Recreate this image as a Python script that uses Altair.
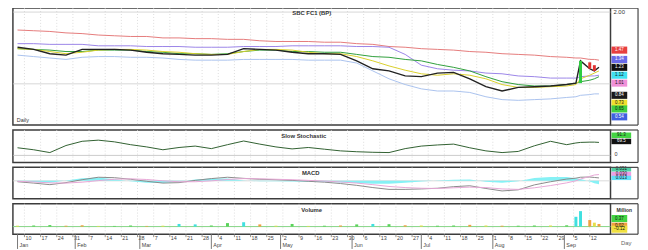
import altair as alt
import pandas as pd

# ---------------- data ----------------
dates = ["2005/01/07", "2005/01/14", "2005/01/21", "2005/01/28", "2005/02/04", "2005/02/11",
         "2005/02/18", "2005/02/25", "2005/03/04", "2005/03/11", "2005/03/18", "2005/03/25",
         "2005/04/01", "2005/04/08", "2005/04/15", "2005/04/22", "2005/04/29", "2005/05/06",
         "2005/05/13", "2005/05/20", "2005/05/27", "2005/06/03", "2005/06/10", "2005/06/17",
         "2005/06/24", "2005/07/01", "2005/07/08", "2005/07/15", "2005/07/22", "2005/07/29",
         "2005/08/05", "2005/08/12", "2005/08/19", "2005/08/26", "2005/09/02", "2005/09/06",
         "2005/09/08", "2005/09/12", "2005/09/14", "2005/09/16"]

close = [1.51, 1.48, 1.42, 1.40, 1.48, 1.48, 1.48, 1.47, 1.44, 1.42, 1.41, 1.40, 1.40, 1.41,
         1.49, 1.48, 1.47, 1.44, 1.42, 1.42, 1.41, 1.32, 1.21, 1.18, 1.11, 1.10, 1.15, 1.16,
         1.07, 0.96, 0.90, 0.95, 0.96, 0.97, 0.99, 1.01, 1.32, 1.21, 1.18, 1.23]
ma_long = [1.75, 1.74, 1.73, 1.71, 1.70, 1.68, 1.67, 1.66, 1.66, 1.64, 1.64, 1.63, 1.63, 1.62,
           1.62, 1.60, 1.59, 1.59, 1.59, 1.58, 1.58, 1.56, 1.55, 1.52, 1.51, 1.49, 1.48, 1.47,
           1.45, 1.44, 1.42, 1.41, 1.40, 1.38, 1.37, 1.36, 1.36, 1.34, 1.34, 1.33]
band_upper = [1.56, 1.56, 1.55, 1.55, 1.55, 1.53, 1.53, 1.53, 1.52, 1.52, 1.52, 1.51, 1.51, 1.51,
              1.52, 1.52, 1.52, 1.53, 1.53, 1.53, 1.53, 1.52, 1.52, 1.51, 1.41, 1.26, 1.21, 1.19,
              1.18, 1.15, 1.14, 1.11, 1.10, 1.08, 1.08, 1.08, 1.10, 1.11, 1.11, 1.12]
ma_mid = [1.49, 1.48, 1.47, 1.45, 1.45, 1.47, 1.47, 1.47, 1.45, 1.44, 1.42, 1.42, 1.41, 1.42,
          1.45, 1.47, 1.47, 1.45, 1.45, 1.44, 1.44, 1.41, 1.38, 1.37, 1.34, 1.32, 1.27, 1.23,
          1.18, 1.10, 1.03, 0.99, 0.97, 0.97, 0.99, 1.01, 1.03, 1.05, 1.07, 1.10]
ma_fast = [1.49, 1.48, 1.45, 1.42, 1.44, 1.47, 1.48, 1.48, 1.47, 1.45, 1.44, 1.42, 1.41, 1.41,
           1.45, 1.48, 1.48, 1.47, 1.44, 1.42, 1.42, 1.38, 1.32, 1.25, 1.19, 1.14, 1.12, 1.14,
           1.12, 1.07, 0.99, 0.95, 0.95, 0.96, 0.97, 0.99, 1.07, 1.12, 1.15, 1.18]
band_lower = [1.40, 1.38, 1.36, 1.34, 1.37, 1.38, 1.38, 1.37, 1.37, 1.36, 1.34, 1.33, 1.33, 1.33,
              1.34, 1.34, 1.34, 1.34, 1.33, 1.33, 1.33, 1.29, 1.18, 1.07, 0.99, 0.93, 0.90, 0.90,
              0.88, 0.82, 0.78, 0.77, 0.78, 0.79, 0.81, 0.82, 0.84, 0.85, 0.86, 0.86]

candle_dates = ["2005/09/08", "2005/09/12", "2005/09/14"]
candle_open = [1.01, 1.30, 1.26]
candle_close = [1.32, 1.21, 1.18]

stoch_k = [47, 40, 30, 55, 70, 74, 68, 58, 50, 40, 48, 53, 44, 58, 71, 60, 50, 43, 48, 42,
           36, 33, 31, 30, 44, 53, 57, 60, 47, 36, 30, 34, 54, 70, 58, 64, 66, 67, 67, 66]

macd = [-0.004, -0.010, -0.017, -0.008, 0.005, 0.016, 0.014, 0.007, -0.002, -0.010,
        -0.008, 0.002, 0.010, 0.016, 0.011, 0.007, 0.005, 0.002, -0.002, -0.006,
        -0.012, -0.020, -0.030, -0.038, -0.038, -0.036, -0.033, -0.026, -0.022, -0.034,
        -0.045, -0.040, -0.018, -0.004, 0.008, 0.012, 0.016, 0.017, 0.015, 0.013]
signal = [-0.002, -0.005, -0.009, -0.010, -0.006, 0.001, 0.007, 0.009, 0.006, 0.000,
          -0.004, -0.004, 0.000, 0.006, 0.010, 0.009, 0.007, 0.005, 0.002, -0.001,
          -0.005, -0.010, -0.017, -0.025, -0.030, -0.033, -0.034, -0.031, -0.028, -0.030,
          -0.036, -0.038, -0.031, -0.021, -0.009, 0.000, 0.008, 0.020, 0.026, 0.028]

volume = [0.04, 0.05, 0.07, 0.04, 0.06, 0.03, 0.03, 0.05, 0.03, 0.04, 0.12, 0.10, 0.05, 0.16,
          0.20, 0.10, 0.04, 0.12, 0.03, 0.04, 0.05, 0.10, 0.12, 0.11, 0.06, 0.05, 0.04, 0.05,
          0.08, 0.05, 0.04, 0.04, 0.05, 0.05, 0.06, 0.45, 0.71, 0.30, 0.18, 0.12]
vol_kind = ["flat", "up", "up", "down", "down", "flat", "up", "up", "down", "flat",
            "heavy", "heavy", "up", "up", "heavy", "down", "flat", "up", "flat", "up",
            "down", "up", "heavy", "up", "down", "flat", "up", "up", "down", "flat",
            "down", "up", "up", "flat", "up", "heavy", "heavy", "down", "flat", "down"]

price_box_names = ["MA 200", "BB Upper", "Close", "MA 10", "MA 100", "Open", "MA 20", "MA 50", "BB Lower"]
price_box_values = [1.47, 1.34, 1.23, 1.12, 1.01, 0.84, 0.73, 0.65, 0.54]
stoch_box_names = ["%D", "%K"]
stoch_box_values = [91.3, 69.5]
macd_box_names = ["MACD", "Signal", "Hist"]
macd_box_values = [0.051, 0.030, 0.013]
vol_box_names = ["Volume", "Avg", "Low"]
vol_box_values = [0.37, 0.02, -0.12]

price_grid = [1.0, 2.0]
price_tick_labels = [2.0]
stoch_grid = [20]
macd_grid = [0.0]
vol_grid = [0.0]

month_dates = ["2005/01/07", "2005/02/01", "2005/03/01", "2005/04/01", "2005/05/01",
               "2005/06/01", "2005/07/01", "2005/08/01", "2005/09/01"]
month_names = ["Jan", "Feb", "Mar", "Apr", "May", "Jun", "Jul", "Aug", "Sep"]
week_range = pd.date_range("2005-01-10", "2005-09-12", freq="7D")
week_dates = [d.strftime("%Y/%m/%d") for d in week_range]
week_labels = [str(d.day) for d in week_range]

panel_titles = ["SBC FC1 (BP)", "Slow Stochastic", "MACD", "Volume"]
corner_texts = ["Daily", "0", "Million", "Day"]

# ---------------- layout / style ----------------
W = 608
H_PRICE, H_STOCH, H_MACD, H_VOL = 119, 33, 32, 31
FONT = "Liberation Sans"
COL = 28

df = pd.DataFrame({"date": dates, "close": close, "MA 200": ma_long, "BB Upper": band_upper,
                   "MA 50": ma_mid, "MA 20": ma_fast, "BB Lower": band_lower,
                   "stoch": stoch_k, "macd": macd, "signal": signal,
                   "volume": volume, "kind": vol_kind})
cdf = pd.DataFrame({"cdate": candle_dates, "open": candle_open, "close": candle_close})
mdf = pd.DataFrame({"m": month_dates, "name": month_names})
wdf = pd.DataFrame({"w": week_dates, "lab": week_labels})

X_DOMAIN = [alt.DateTime(year=2005, month=1, date=5), alt.DateTime(year=2005, month=9, date=21)]
xs = alt.Scale(domain=X_DOMAIN, padding=0)


def xenc(field="date"):
    return alt.X(f"{field}:T", scale=xs, axis=None)


def one(text):
    return pd.DataFrame({"t": [text]})


def label(text, x, y, size=6, bold=False, align="center", color="#333"):
    return alt.Chart(one(text)).mark_text(
        fontSize=size, font=FONT, fontWeight="bold" if bold else "normal",
        align=align, baseline="middle", color=color
    ).encode(text="t:N", x=alt.value(x), y=alt.value(y))


def vgrid():
    return alt.Chart(wdf).mark_rule(color="#d4d4d4", strokeWidth=0.8, strokeDash=[1, 2]).encode(
        x=xenc("w"))


def hgrid(values, yscale, color="#cccccc", width=0.8):
    return alt.Chart(pd.DataFrame({"g": values})).mark_rule(color=color, strokeWidth=width).encode(
        y=alt.Y("g:Q", scale=yscale, axis=None))


def column_frame(h):
    d = one("frame")
    top = alt.Chart(d).mark_rule(color="#444", strokeWidth=1.2).encode(
        x=alt.value(W), x2=alt.value(W + COL), y=alt.value(0))
    bot = alt.Chart(d).mark_rule(color="#444", strokeWidth=1.2).encode(
        x=alt.value(W), x2=alt.value(W + COL), y=alt.value(h))
    side = alt.Chart(d).mark_rule(color="#444", strokeWidth=1.2).encode(
        x=alt.value(W + COL), y=alt.value(0), y2=alt.value(h))
    return [top, bot, side]


def boxes(names, values, colors, dark, yscale, wide=16, ratio=0.45, xc=W + 9, fmt=".2f"):
    bdf = pd.DataFrame({"name": names, "v": values})
    path = f"M-1,-{ratio}L1,-{ratio}L1,{ratio}L-1,{ratio}Z"
    pts = alt.Chart(bdf).mark_point(shape=path, filled=True, opacity=1, size=wide * wide,
                                    strokeWidth=0).encode(
        x=alt.value(xc), y=alt.Y("v:Q", scale=yscale, axis=None),
        fill=alt.Fill("name:N", scale=alt.Scale(domain=names, range=colors), legend=None))
    txt = alt.Chart(bdf).transform_calculate(lab=f"format(datum.v, '{fmt}')").mark_text(
        fontSize=4.5, font=FONT, baseline="middle").encode(
        x=alt.value(xc), y=alt.Y("v:Q", scale=yscale, axis=None), text="lab:N",
        color=alt.condition(alt.FieldOneOfPredicate(field="name", oneOf=dark if dark else ["-"]),
                            alt.value("white"), alt.value("#111")))
    return [pts, txt]


# ---------------- price panel ----------------
price_scale = alt.Scale(domain=[0.425, 2.055], nice=False, zero=False)

ma_df = df.melt(id_vars=["date"], value_vars=["MA 200", "BB Upper", "BB Lower", "MA 50", "MA 20"],
                var_name="series", value_name="value")
ma_lines = alt.Chart(ma_df).mark_line(strokeWidth=1).encode(
    x=xenc(), y=alt.Y("value:Q", scale=price_scale, axis=None),
    color=alt.Color("series:N", legend=None, scale=alt.Scale(
        domain=["MA 200", "BB Upper", "BB Lower", "MA 50", "MA 20"],
        range=["#e47a7a", "#9a84e8", "#a9c2ee", "#2e9e3a", "#d9cf2a"])))
price_line = alt.Chart(df).mark_line(color="#222222", strokeWidth=1.4).encode(
    x=xenc(), y=alt.Y("close:Q", scale=price_scale, axis=None))
candles = alt.Chart(cdf).mark_bar(size=3).encode(
    x=xenc("cdate"), y=alt.Y("open:Q", scale=price_scale, axis=None), y2="close:Q",
    color=alt.condition("datum.close >= datum.open", alt.value("#2ecc40"), alt.value("#e03030")))
price_ticklab = alt.Chart(pd.DataFrame({"g": price_tick_labels})).mark_text(
    fontSize=6, font=FONT, color="#333", align="left", baseline="middle").encode(
    x=alt.value(W + 3), y=alt.Y("g:Q", scale=price_scale, axis=None),
    text=alt.Text("g:Q", format=".2f"))

price = alt.layer(
    vgrid(), hgrid(price_grid, price_scale),
    ma_lines, price_line, candles,
    label(panel_titles[0], 304, 5, bold=True),
    label(corner_texts[0], 4, H_PRICE - 5, size=5.5, align="left"),
    price_ticklab,
    *boxes(price_box_names, price_box_values,
           ["#e84040", "#6a6ae8", "#111111", "#40e0f0", "#f090d8", "#1a1a1a", "#f0e030", "#40d040", "#4060e0"],
           ["Close", "Open", "BB Lower", "BB Upper", "MA 200"], price_scale),
    *column_frame(H_PRICE),
).properties(width=W, height=H_PRICE)

# ---------------- stochastic panel ----------------
stoch_scale = alt.Scale(domain=[-5, 110], nice=False, zero=False)
stoch_line = alt.Chart(df).mark_line(color="#2f5f2f", strokeWidth=1).encode(
    x=xenc(), y=alt.Y("stoch:Q", scale=stoch_scale, axis=None))
stoch = alt.layer(
    vgrid(), hgrid(stoch_grid, stoch_scale, color="#bdbdbd"),
    stoch_line,
    label(panel_titles[1], 296, 6, bold=True),
    *boxes(stoch_box_names, stoch_box_values, ["#44d444", "#111111"], ["%K"], stoch_scale,
           wide=20, ratio=0.28, xc=W + 11, fmt=".1f"),
    label(corner_texts[1], W + 4, 24, size=5.5, align="left"),
    *column_frame(H_STOCH),
).properties(width=W, height=H_STOCH)

# ---------------- MACD panel ----------------
macd_scale = alt.Scale(domain=[-0.08, 0.06], nice=False, zero=False)
hist = alt.Chart(df).transform_calculate(hist="datum.macd - datum.signal").mark_area(
    color="#7ff0f4", opacity=0.95).encode(
    x=xenc(), y=alt.Y("hist:Q", scale=macd_scale, axis=None), y2=alt.datum(0))
macd_line = alt.Chart(df).mark_line(color="#8a8a8a", strokeWidth=1).encode(
    x=xenc(), y=alt.Y("macd:Q", scale=macd_scale, axis=None))
signal_line = alt.Chart(df).mark_line(color="#e8a6d6", strokeWidth=1).encode(
    x=xenc(), y=alt.Y("signal:Q", scale=macd_scale, axis=None))
macd_panel = alt.layer(
    vgrid(), hgrid(macd_grid, macd_scale, color="#d0d0d0"),
    hist, macd_line, signal_line,
    label(panel_titles[2], 303, 6, bold=True),
    *boxes(macd_box_names, macd_box_values, ["#52cfa6", "#ee9fe6", "#62def8"], [], macd_scale,
           wide=20, ratio=0.22, xc=W + 11, fmt=".3f"),
    *column_frame(H_MACD),
).properties(width=W, height=H_MACD)

# ---------------- volume panel ----------------
vol_scale = alt.Scale(domain=[-0.35, 1.05], nice=False, zero=False)
vol_bars = alt.Chart(df).mark_bar(size=3).encode(
    x=xenc(), y=alt.Y("volume:Q", scale=vol_scale, axis=None), y2=alt.datum(0),
    color=alt.Color("kind:N", legend=None, scale=alt.Scale(
        domain=["up", "down", "flat", "heavy"],
        range=["#5ad35a", "#f0a040", "#e6df4a", "#40e0e0"])))
day_ticks = alt.Chart(wdf).mark_rule(color="#777", strokeWidth=0.8).encode(
    x=xenc("w"), y=alt.value(H_VOL), y2=alt.value(H_VOL + 3))
day_labels = alt.Chart(wdf).mark_text(fontSize=5.5, font=FONT, color="#444", align="left",
                                      baseline="top", dx=1).encode(
    x=xenc("w"), y=alt.value(H_VOL + 2), text="lab:N")
month_ticks = alt.Chart(mdf).mark_rule(color="#777", strokeWidth=1).encode(
    x=xenc("m"), y=alt.value(H_VOL), y2=alt.value(H_VOL + 15))
month_labels = alt.Chart(mdf).mark_text(fontSize=5.5, font=FONT, color="#444", align="left",
                                        baseline="top", dx=2).encode(
    x=xenc("m"), y=alt.value(H_VOL + 9), text="name:N")

vol = alt.layer(
    vgrid(), hgrid(vol_grid, vol_scale, color="#86d486", width=1),
    vol_bars, day_ticks, day_labels, month_ticks, month_labels,
    label(panel_titles[3], 304, 6, bold=True),
    label(corner_texts[2], W + 14, 6, size=5, bold=True),
    *boxes(vol_box_names, vol_box_values, ["#44d444", "#f0a040", "#f0e040"], [], vol_scale,
           fmt=".2f"),
    label(corner_texts[3], W + 16, H_VOL + 9, size=6, color="#666"),
    *column_frame(H_VOL),
).properties(width=W, height=H_VOL)

chart = alt.vconcat(price, stoch, macd_panel, vol, spacing=1).resolve_scale(
    color="independent", fill="independent"
).properties(
    padding={"left": 3, "top": -4, "right": 0, "bottom": 0}, background="white"
).configure_view(stroke="#3c3c3c", strokeWidth=1.5)

chart.save("out.html", embed_options={"renderer": "svg", "actions": False})
